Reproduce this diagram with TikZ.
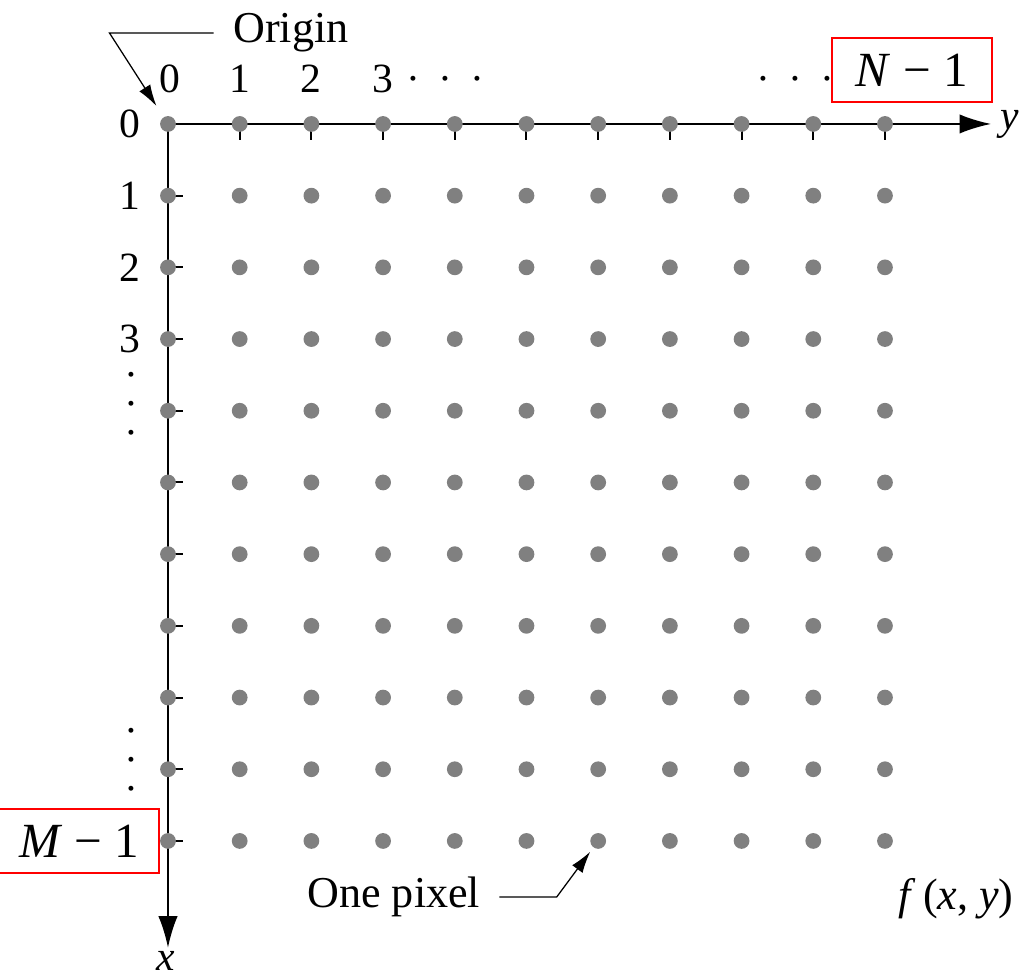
\documentclass[tikz,border=0pt]{standalone}
\usepackage{fontspec}
\setmainfont{Liberation Serif}
\usetikzlibrary{arrows.meta, positioning}

\begin{document}
\begin{tikzpicture}[
  pix/.style={circle, fill=gray, inner sep=0pt, minimum size=0.22cm},
  axisline/.style={-{Latex[length=4.4mm, width=2.7mm]}, line width=0.8pt},
  tickmark/.style={line width=0.8pt},
  note/.style={-{Latex[length=3mm, width=1.8mm]}, line width=0.5pt},
  lbl/.style={inner sep=0pt, font=\fontsize{16.5}{19}\selectfont},
  word/.style={inner sep=0pt, font=\fontsize{17.5}{21}\selectfont},
  vdot/.style={inner sep=0pt, align=center, font=\fontsize{16.5}{11.5}\selectfont},
  redbox/.style={draw=red, line width=0.8pt, inner sep=0pt, minimum width=2.23cm, minimum height=0.89cm, font=\fontsize{19.5}{22}\selectfont}
]
\useasboundingbox (-2.343,-11.925) rectangle (11.953,1.729);
% axes and ticks, under the pixels
\coordinate (o) at (0,0);
\coordinate (yend) at (11.48,0);
\coordinate (xend) at (0,-11.49);
\draw[axisline] (o) -- (yend);
\draw[axisline] (o) -- (xend);
\foreach \i in {1,...,10} {
  \draw[tickmark] (\i,0) -- (\i,-0.22);
  \draw[tickmark] (0,-\i) -- (0.21,-\i);
}
% pixel grid
\foreach \r in {0,...,10}
  \foreach \c in {0,...,10}
    \node[pix] (p-\r-\c) at (\c,-\r) {};
% column indices
\node[lbl, above=0.43cm of p-0-0.center, xshift=0.03cm] (c0) {0};
\node[lbl, above=0.43cm of p-0-1.center] (c1) {1};
\node[lbl, above=0.43cm of p-0-2.center] (c2) {2};
\node[lbl, above=0.43cm of p-0-3.center] (c3) {3};
\node[lbl, right=0.17cm of c3] (cdotsl) {\vphantom{0}·\hspace{0.254cm}·\hspace{0.254cm}·};
\node[lbl, above=0.43cm of p-0-9.center, xshift=-0.255cm] (cdotsr) {\vphantom{0}·\hspace{0.254cm}·\hspace{0.254cm}·};
\node[redbox, above=0.295cm of p-0-10.center, xshift=0.376cm] (nlab) {\textit{N} − 1};
% row indices
\node[lbl, left=0.38cm of p-0-0.center] (r0) {0};
\node[lbl, left=0.38cm of p-1-0.center] (r1) {1};
\node[lbl, left=0.38cm of p-2-0.center] (r2) {2};
\node[lbl, left=0.38cm of p-3-0.center] (r3) {3};
\node[vdot, left=0.40cm of p-4-0.center, yshift=0.022cm] (rdotsa) {·\\·\\·};
\node[vdot, left=0.40cm of p-9-0.center, yshift=0.058cm] (rdotsb) {·\\·\\·};
\node[redbox, left=0.11cm of p-10-0.center] (mlab) {\textit{M} − 1};
% axis names
\node[lbl, right=0.12cm of yend] (ylab) {\textit{y}};
\node[lbl, below=0.05cm of xend, xshift=-0.03cm] (xlab) {\textit{x}};
% annotations
\node[word, anchor=base] (org) at (1.715,1.13) {Origin};
\draw[note, shorten >=0.18cm] ([xshift=-0.27cm]org.west) -- ++(-1.45,0) -- (p-0-0);
\node[word, anchor=base] (pxl) at (3.15,-10.93) {One pixel};
\draw[note, shorten >=0.07cm] ([xshift=0.26cm]pxl.east) -- ++(0.8,0) -- (p-10-6);
\node[word, anchor=base] (fxy) at (10.99,-10.95) {\textit{f}\,(\textit{x}, \textit{y})};
\end{tikzpicture}
\end{document}
